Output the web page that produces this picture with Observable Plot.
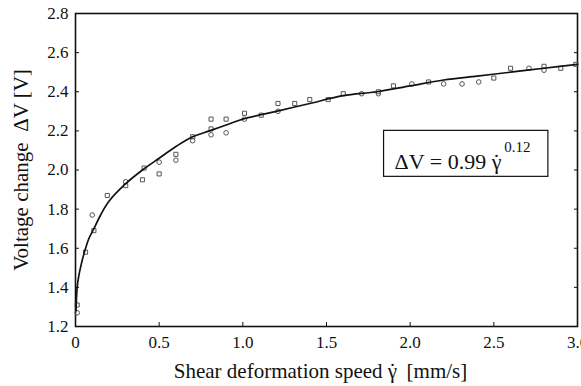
<!DOCTYPE html>
<html>
<head>
<meta charset="utf-8">
<script src="https://cdn.jsdelivr.net/npm/d3@7"></script>
<script src="https://cdn.jsdelivr.net/npm/@observablehq/plot@0.6"></script>
<style>
  body { margin: 0; background: #fff; }
  #chart svg, #chart svg text { font-family: "Liberation Serif", Tinos, "Times New Roman", Times, "DejaVu Serif", serif !important; }
</style>
</head>
<body>
<div id="chart"></div>
<script>
// Measured points: shear speed (mm/s), voltage change (V), marker shape
const pointX = [0.01,0.01,0.06,0.11,0.10,0.19,0.30,0.30,0.41,0.40,0.50,0.50,0.60,0.60,0.70,0.70,0.81,0.81,0.81,0.90,0.90,1.01,1.01,1.11,1.21,1.21,1.31,1.40,1.51,1.60,1.71,1.81,1.81,1.90,2.01,2.11,2.20,2.31,2.41,2.50,2.60,2.71,2.80,2.80,2.90,2.99];
const pointY = [1.27,1.31,1.58,1.69,1.77,1.87,1.92,1.94,2.01,1.95,2.04,1.98,2.05,2.08,2.17,2.15,2.26,2.21,2.18,2.26,2.19,2.29,2.26,2.28,2.34,2.30,2.34,2.36,2.36,2.39,2.39,2.40,2.39,2.43,2.44,2.45,2.44,2.44,2.45,2.47,2.52,2.52,2.53,2.51,2.52,2.54];
const pointShape = ["o","s","s","s","o","s","s","o","s","s","o","s","o","s","s","o","s","s","o","s","o","s","o","s","s","o","s","s","s","s","o","s","o","s","o","s","o","o","o","s","s","o","s","o","s","s"];

// Fitted curve
const curveX = [0.003,0.01,0.02,0.035,0.05,0.08,0.11,0.15,0.2,0.3,0.4,0.5,0.6,0.7,0.8,0.9,1.0,1.2,1.4,1.6,1.8,2.0,2.2,2.4,2.6,2.8,3.0];
const curveY = [1.28,1.40,1.46,1.52,1.57,1.65,1.70,1.77,1.84,1.93,2.00,2.06,2.12,2.17,2.20,2.23,2.26,2.30,2.34,2.38,2.40,2.43,2.46,2.48,2.50,2.52,2.54];

const xTicks = [0,0.5,1.0,1.5,2.0,2.5,3.0];
const yTicks = [1.2,1.4,1.6,1.8,2.0,2.2,2.4,2.6,2.8];

// Texts with a dotted gamma are split: [before dot, after dot]
const xLabelParts = ["Shear deformation speed γ", "  [mm/s]"];
const yLabel = "Voltage change  ΔV [V]";
const equationParts = ["ΔV = 0.99 γ", ""];
const equationExp = "0.12";
const dotAbove = "˙";
// Equation box in data units
const boxX = [1.844, 2.826];
const boxY = [1.965, 2.20];
const eqAnchor = [2.545, 2.005];

const points = pointX.map((x, i) => ({x, y: pointY[i], shape: pointShape[i]}));
const curve = curveX.map((x, i) => ({x, y: curveY[i]}));

const fmtX = d => d === 0 ? "0" : d3.format(".1f")(d);
const fmtY = d3.format(".1f");
const xLabelText = xLabelParts.join(dotAbove);
const equationText = equationParts.join(dotAbove);

const chart = Plot.plot({
  width: 581,
  height: 386,
  marginLeft: 75,
  marginRight: 4,
  marginTop: 13,
  marginBottom: 60,
  style: {fontSize: "16px", color: "#111", background: "#fff"},
  x: {domain: [0, 3], ticks: xTicks},
  y: {domain: [1.2, 2.8], ticks: yTicks},
  symbol: {domain: ["o", "s"], range: ["circle", "square"]},
  marks: [
    Plot.axisX(xTicks, {tickSize: 0, tickPadding: 9, tickFormat: fmtX, label: null, fontSize: 17}),
    Plot.axisX(xTicks, {tickSize: -4, tickFormat: () => "", label: null}),
    Plot.axisY(yTicks, {tickSize: 0, tickPadding: 7, tickFormat: fmtY, label: null, fontSize: 17}),
    Plot.axisY(yTicks, {anchor: "left", tickSize: -4, tickFormat: () => "", label: null}),
    Plot.axisY(yTicks, {anchor: "right", tickSize: -4, tickFormat: () => "", label: null}),
    Plot.frame({stroke: "#111", strokeWidth: 1.6}),
    Plot.dot(points, {x: "x", y: "y", symbol: "shape", r: 2.3, stroke: "#555", strokeWidth: 1, fill: "none"}),
    Plot.line(curve, {x: "x", y: "y", stroke: "#111", strokeWidth: 1.7, curve: "catmull-rom"}),
    Plot.rect([{x1: boxX[0], x2: boxX[1], y1: boxY[0], y2: boxY[1]}], {x1: "x1", x2: "x2", y1: "y1", y2: "y2", stroke: "#111", strokeWidth: 1.2, fill: "white"}),
    Plot.text([equationText], {x: eqAnchor[0], y: eqAnchor[1], text: d => d, textAnchor: "end", lineAnchor: "bottom", fontSize: 22, fill: "#111"}),
    Plot.text([equationExp], {x: eqAnchor[0], y: eqAnchor[1], text: d => d, textAnchor: "start", lineAnchor: "bottom", dx: 3, dy: -17, fontSize: 15, fill: "#111"}),
    Plot.text([xLabelText], {frameAnchor: "bottom", text: d => d, textAnchor: "middle", lineAnchor: "middle", dy: 45, dx: -6, fontSize: 21, fill: "#111"}),
    Plot.text([yLabel], {frameAnchor: "left", text: d => d, textAnchor: "middle", lineAnchor: "middle", rotate: -90, dx: -54, fontSize: 21, fill: "#111"})
  ]
});

// Place the dot above the gamma with tspans (text stays real text)
function dotGamma(full, parts, shift) {
  d3.select(chart).selectAll("text").filter(function() { return this.textContent === full; })
    .each(function() {
      const t = d3.select(this);
      t.text(null);
      t.append("tspan").text(parts[0]);
      t.append("tspan").attr("dx", shift).text(dotAbove);
      if (parts[1]) t.append("tspan").text(parts[1]);
    });
}
dotGamma(xLabelText, xLabelParts, -8);
dotGamma(equationText, equationParts, -8.5);

document.getElementById("chart").appendChild(chart);
</script>
</body>
</html>
